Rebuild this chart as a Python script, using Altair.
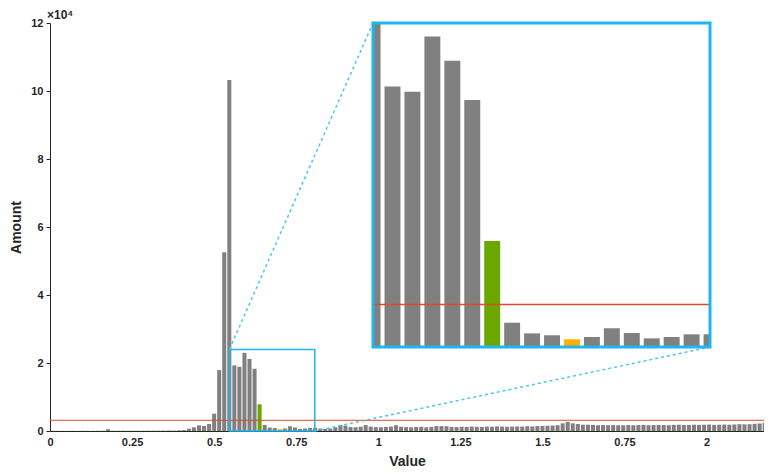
import json
import altair as alt
import pandas as pd

# ---------------- data ----------------
BIN_WIDTH = 1 / 65
COUNTS = [
    60, 40, 50, 30, 60, 40, 80, 50, 60, 70,
    90, 520, 80, 60, 90, 70, 80, 60, 90, 100,
    110, 90, 120, 150, 130, 200, 280, 690, 1080, 1670,
    1470, 2060, 5100, 17900, 52600, 103200, 19300, 18900, 23000, 21200,
    18300, 7850, 1800, 1010, 870, 570, 740, 1390, 1040, 640,
    740, 940, 940, 700, 650, 720, 1100, 1750, 1600, 1150,
    1100, 1250, 1750, 1300, 1150, 1100, 1200, 1300, 1700, 1250,
    1150, 1100, 1200, 1250, 1100, 1200, 1450, 1450, 1400, 1200,
    1150, 1250, 1200, 1300, 1250, 1200, 1300, 1250, 1350, 1300,
    1250, 1300, 1350, 1300, 1400, 1350, 1450, 1500, 1550, 1600,
    1700, 2250, 2650, 2250, 2050, 1850, 1850, 1800, 1700, 1750,
    1700, 1750, 1700, 1700, 1750, 1700, 1750, 1800, 1700, 1750,
    1800, 1750, 1700, 1800, 1850, 1750, 1800, 1850, 1800, 1850,
    1900, 1800, 1850, 1900, 1850, 1900, 2000, 1950, 2000, 2100,
    2200, 2400, 2500,
]
GREEN_BIN = 41
ORANGE_BIN = 45
THRESHOLD = 3150
ZOOM_X = [0.5465, 0.8065]
ZOOM_Y = [0, 24000]
X_TICKS = [0, 0.25, 0.5, 0.75, 1, 1.25, 1.5, 1.75, 2]
X_TICK_LABELS = ["0", "0.25", "0.5", "0.75", "1", "1.25", "1.5", "0.75", "2"]
Y_TICKS = [0, 20000, 40000, 60000, 80000, 100000, 120000]
Y_EXPONENT = "×10⁴"

# ---------------- layout / style ----------------
W, H = 714, 408
PX_PER_UNIT = 328.3
X_MAX = W / PX_PER_UNIT
Y_MAX = 120000
INSET_L, INSET_R, INSET_T, INSET_B = 323, 660, 0, 324
GAP = 0.1
FONT = "Liberation Sans"
GRAY, GREEN, ORANGE = "#808080", "#6aa800", "#ffb000"
RED, CYAN, CYAN_LIGHT = "#e2472b", "#1cb6f0", "#4cc4f4"
INK = "#262626"

kinds = ["base"] * len(COUNTS)
kinds[GREEN_BIN] = "green"
kinds[ORANGE_BIN] = "orange"
bars = pd.DataFrame({"bin": range(len(COUNTS)), "count": COUNTS, "kind": kinds})
bars["x0"] = (bars["bin"] + GAP) * BIN_WIDTH
bars["x1"] = (bars["bin"] + 1 - GAP) * BIN_WIDTH
inset_bars = bars[(bars.x1 > ZOOM_X[0]) & (bars.x0 < ZOOM_X[1])]

xs = alt.Scale(domain=[0, X_MAX], nice=False, zero=False)
ys = alt.Scale(domain=[0, Y_MAX], nice=False, zero=False)
ixs = alt.Scale(domain=ZOOM_X, range=[INSET_L, INSET_R], clamp=True, nice=False, zero=False)
iys = alt.Scale(domain=ZOOM_Y, range=[INSET_B, INSET_T], clamp=True, nice=False, zero=False)

color = alt.Color(
    "kind:N",
    scale=alt.Scale(domain=["base", "green", "orange"], range=[GRAY, GREEN, ORANGE]),
    legend=None,
)

x_label_expr = f"{json.dumps(X_TICK_LABELS)}[indexof({json.dumps(X_TICKS)}, datum.value)]"
x_axis = alt.Axis(values=X_TICKS, labelExpr=x_label_expr, ticks=False, tickSize=0,
                  labelPadding=5, titlePadding=7, labelFlush=False, labelOverlap=False)
y_axis = alt.Axis(values=Y_TICKS, labelExpr="datum.value / 10000", tickSize=4,
                  labelPadding=3, titlePadding=7)

main_bars = alt.Chart(bars).mark_bar(clip=True).encode(
    x=alt.X("x0:Q", scale=xs, axis=x_axis, title="Value"),
    x2="x1:Q",
    y=alt.Y("count:Q", scale=ys, axis=y_axis, title="Amount"),
    y2=alt.datum(0),
    color=color,
)

main_rule = alt.Chart(pd.DataFrame({"t": [THRESHOLD]})).mark_rule(
    color=RED, strokeWidth=1
).encode(y=alt.Y("t:Q", scale=ys, axis=None))

box_df = pd.DataFrame({"x0": [ZOOM_X[0]], "x1": [ZOOM_X[1]], "y0": [ZOOM_Y[0]], "y1": [ZOOM_Y[1]]})
main_box = alt.Chart(box_df).mark_rect(filled=False, stroke=CYAN, strokeWidth=1.5).encode(
    x=alt.X("x0:Q", scale=xs, axis=None), x2="x1:Q",
    y=alt.Y("y0:Q", scale=ys, axis=None), y2="y1:Q",
)


# inset corners expressed in main-chart data units
def px_to_x(px):
    return px / W * X_MAX


def py_to_y(py):
    return (H - py) / H * Y_MAX


conn_df = pd.DataFrame({
    "xa": [ZOOM_X[0], ZOOM_X[1]],
    "ya": [ZOOM_Y[1], ZOOM_Y[0]],
    "xb": [px_to_x(INSET_L), px_to_x(INSET_R)],
    "yb": [py_to_y(INSET_T), py_to_y(INSET_B)],
})
connectors = alt.Chart(conn_df).mark_rule(
    color=CYAN_LIGHT, strokeWidth=1.5, strokeDash=[3, 3]
).encode(
    x=alt.X("xa:Q", scale=xs, axis=None), x2="xb:Q",
    y=alt.Y("ya:Q", scale=ys, axis=None), y2="yb:Q",
)

exponent = alt.Chart(pd.DataFrame({"t": [Y_EXPONENT]})).mark_text(
    align="left", baseline="alphabetic", dx=-3, dy=-4, font=FONT, fontSize=12,
    fontWeight="bold", color=INK,
).encode(
    x=alt.X(datum=0, scale=xs, axis=None),
    y=alt.Y(datum=Y_MAX, scale=ys, axis=None),
    text="t:N",
)

inset_bar_layer = alt.Chart(inset_bars).mark_bar().encode(
    x=alt.X("x0:Q", scale=ixs, axis=None), x2="x1:Q",
    y=alt.Y("count:Q", scale=iys, axis=None),
    y2=alt.datum(0),
    color=color,
)
inset_rule_df = pd.DataFrame({"x0": [ZOOM_X[0]], "x1": [ZOOM_X[1]], "t": [THRESHOLD]})
inset_rule = alt.Chart(inset_rule_df).mark_rule(color=RED, strokeWidth=1.5).encode(
    x=alt.X("x0:Q", scale=ixs, axis=None), x2="x1:Q",
    y=alt.Y("t:Q", scale=iys, axis=None),
)
inset_frame = alt.Chart(box_df).mark_rect(filled=False, stroke=CYAN, strokeWidth=3).encode(
    x=alt.X("x0:Q", scale=ixs, axis=None), x2="x1:Q",
    y=alt.Y("y0:Q", scale=iys, axis=None), y2="y1:Q",
)

chart = (
    alt.layer(main_bars, main_rule, main_box, connectors, exponent,
              inset_bar_layer, inset_rule, inset_frame)
    .resolve_scale(x="independent", y="independent")
    .properties(
        width=W,
        height=H,
        autosize=alt.AutoSizeParams(type="none"),
        padding={"left": 42, "top": 15, "right": 0, "bottom": 38},
    )
    .configure_view(stroke=None)
    .configure_axis(
        labelFont=FONT, titleFont=FONT, labelFontSize=11, labelFontWeight="bold",
        titleFontSize=14, titleFontWeight="bold", labelColor=INK, titleColor=INK,
        domainColor=INK, tickColor=INK, domainWidth=1, grid=False,
    )
)

chart.save("out.html", embed_options={"renderer": "svg", "actions": False})
